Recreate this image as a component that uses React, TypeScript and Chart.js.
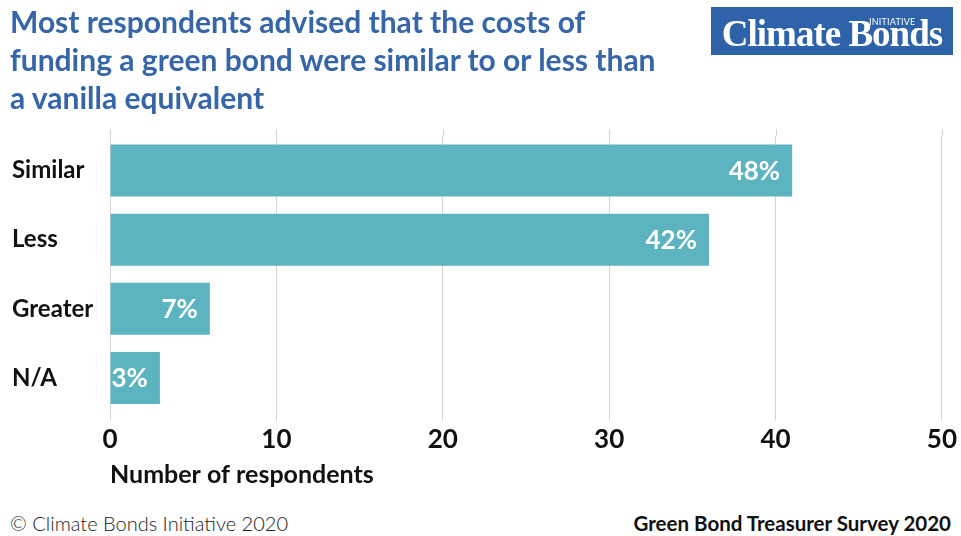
import React, { useEffect, useRef } from "react";
import { Chart, registerables } from "chart.js";

Chart.register(...registerables);

const categories = ["Similar", "Less", "Greater", "N/A"];
const respondents = [41, 36, 6, 3];
const shareLabels = ["48%", "42%", "7%", "3%"];
const xMin = 0;
const xMax = 50;
const xStep = 10;

const titleLines = [
  "Most respondents advised that the costs of",
  "funding a green bond were similar to or less than",
  "a vanilla equivalent",
];
const axisTitle = "Number of respondents";
const sourceText = "© Climate Bonds Initiative 2020";
const surveyText = "Green Bond Treasurer Survey 2020";

const BAR_COLOR = "#5cb4c0";
const TITLE_COLOR = "#3766a8";

const gridExtendPlugin = {
  id: "gridExtend",
  beforeDatasetsDraw(chart: any) {
    const { ctx, chartArea, scales } = chart;
    const x = scales.x;
    ctx.save();
    ctx.strokeStyle = "#d4d4d4";
    ctx.lineWidth = 1;
    x.ticks.forEach((t: any) => {
      const px = Math.round(x.getPixelForValue(t.value)) + 0.5;
      ctx.beginPath();
      ctx.moveTo(px, chartArea.top - 7);
      ctx.lineTo(px, chartArea.top);
      ctx.stroke();
    });
    ctx.restore();
  },
};

const barLabelPlugin = {
  id: "barLabels",
  afterDatasetsDraw(chart: any) {
    const { ctx } = chart;
    const meta = chart.getDatasetMeta(0);
    ctx.save();
    ctx.fillStyle = "#ffffff";
    ctx.font = "bold 26px Lato";
    ctx.textAlign = "right";
    ctx.textBaseline = "middle";
    meta.data.forEach((bar: any, i: number) => {
      ctx.fillText(shareLabels[i], bar.x - 12, bar.y + 1);
    });
    ctx.restore();
  },
};

export default function App() {
  const canvasRef = useRef<HTMLCanvasElement | null>(null);

  useEffect(() => {
    if (!canvasRef.current) return;
    const chart = new Chart(canvasRef.current, {
      type: "bar",
      data: {
        labels: categories,
        datasets: [
          {
            data: respondents,
            backgroundColor: BAR_COLOR,
            borderWidth: 0,
            barPercentage: 1,
            categoryPercentage: 0.754,
          },
        ],
      },
      options: {
        indexAxis: "y",
        animation: false,
        responsive: false,
        maintainAspectRatio: false,
        layout: { padding: { top: 136, left: 12, right: 18, bottom: 0 } },
        plugins: {
          legend: { display: false },
          tooltip: { enabled: false },
          title: { display: false },
        },
        scales: {
          y: {
            afterFit: (s: any) => {
              s.width = 98;
            },
            grid: { display: false },
            border: { display: false },
            ticks: {
              crossAlign: "far",
              color: "#111111",
              font: { family: "Lato", weight: "bold", size: 24 },
              padding: 0,
            },
          },
          x: {
            min: xMin,
            max: xMax,
            afterFit: (s: any) => {
              s.height = 87.5;
            },
            border: { display: false },
            grid: {
              color: "#d4d4d4",
              lineWidth: 1,
              tickLength: 8,
              drawTicks: true,
            },
            ticks: {
              stepSize: xStep,
              color: "#111111",
              font: { family: "Lato", weight: "bold", size: 26 },
              padding: 4,
            },
            title: {
              display: true,
              text: axisTitle,
              align: "start",
              color: "#111111",
              font: { family: "Lato", weight: "bold", size: 25 },
              padding: { top: 0, bottom: 10 },
            },
          },
        },
      },
      plugins: [gridExtendPlugin, barLabelPlugin],
    } as any);
    return () => chart.destroy();
  }, []);

  return (
    <div
      style={{
        position: "fixed",
        left: 0,
        top: 0,
        width: 961,
        height: 536,
        background: "#ffffff",
        overflow: "hidden",
      }}
    >
      <canvas
        ref={canvasRef}
        width={961}
        height={500}
        style={{ position: "absolute", left: 0, top: 0, width: 961, height: 500 }}
      />
      <div
        style={{
          position: "absolute",
          left: 10,
          top: 2,
          fontFamily: "Lato",
          fontWeight: 700,
          fontSize: 30,
          lineHeight: "38px",
          color: TITLE_COLOR,
          whiteSpace: "nowrap",
        }}
      >
        {titleLines.map((l, i) => (
          <div key={i}>{l}</div>
        ))}
      </div>
      <div
        style={{
          position: "absolute",
          left: 711,
          top: 7,
          width: 242,
          height: 48,
          background: "#2f63a9",
        }}
      >
        <div
          style={{
            position: "absolute",
            left: 0,
            top: 5,
            width: 242,
            textAlign: "center",
            fontFamily: "Liberation Serif",
            fontWeight: 700,
            fontSize: 37,
            letterSpacing: -1,
            lineHeight: "44px",
            color: "#ffffff",
            whiteSpace: "nowrap",
          }}
        >
          Climate Bonds
        </div>
        <div
          style={{
            position: "absolute",
            left: 158,
            top: 10,
            fontFamily: "Lato",
            fontSize: 9,
            lineHeight: "10px",
            color: "#ffffff",
            letterSpacing: 0.2,
          }}
        >
          INITIATIVE
        </div>
      </div>
      <div
        style={{
          position: "absolute",
          left: 10,
          top: 510,
          fontFamily: "Lato",
          fontWeight: 300,
          fontSize: 20,
          lineHeight: "26px",
          color: "#222222",
          whiteSpace: "nowrap",
        }}
      >
        {sourceText}
      </div>
      <div
        style={{
          position: "absolute",
          right: 10,
          top: 510,
          fontFamily: "Lato",
          fontWeight: 700,
          fontSize: 20.5,
          lineHeight: "26px",
          color: "#111111",
          whiteSpace: "nowrap",
        }}
      >
        {surveyText}
      </div>
    </div>
  );
}
